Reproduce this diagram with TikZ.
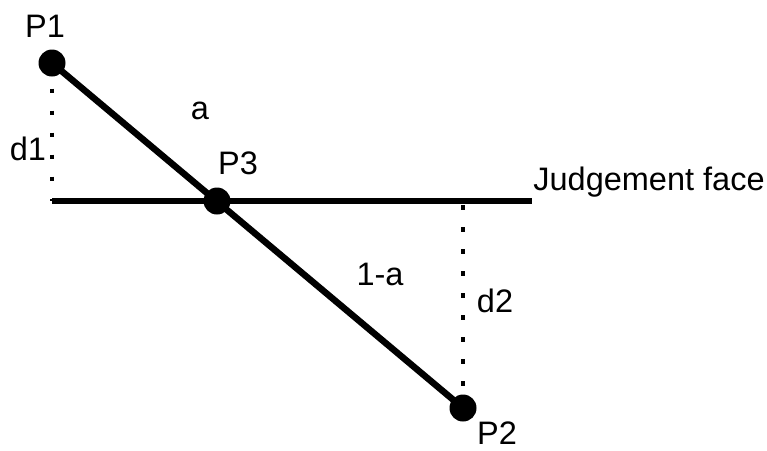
\documentclass[tikz,border=0pt]{standalone}
\usepackage{fontspec}
\setmainfont{Liberation Sans}
\begin{document}
\begin{tikzpicture}[x=1pt,y=-1pt,
  dot/.style={circle,fill=black,inner sep=0pt,minimum size=27pt},
  lbl/.style={anchor=base,inner sep=0pt,font=\fontsize{32.5}{38}\selectfont},
  solidline/.style={line width=6.5pt},
  dotline/.style={line width=4.5pt,dash pattern=on 4.5pt off 17.5pt}]
\useasboundingbox (0,0) rectangle (767,450);
\coordinate (f1) at (52,201);
\coordinate (jend) at (532,201);
\coordinate (f2) at (463,201);
\node[dot] (p1) at (52,63) {};
\node[dot] (p3) at (217,201) {};
\node[dot] (p2) at (463,408) {};
\draw[solidline] (f1) -- (jend);
\draw[solidline] (p1.center) -- (p2.center);
\draw[dotline,dash phase=10pt] (p1) -- (f1);
\draw[dotline,dash phase=18pt] (f2) -- (p2);
\node[lbl] (tp1) at (45,37) {P1};
\node[lbl] (tp3) at (238,174) {P3};
\node[lbl] (tp2) at (497,444) {P2};
\node[lbl] (ta) at (200,119) {a};
\node[lbl] (t1a) at (380,285) {1-a};
\node[lbl] (td1) at (28,160) {d1};
\node[lbl] (td2) at (495,312) {d2};
\node[lbl] (tj) at (649,190) {Judgement face};
\end{tikzpicture}
\end{document}
